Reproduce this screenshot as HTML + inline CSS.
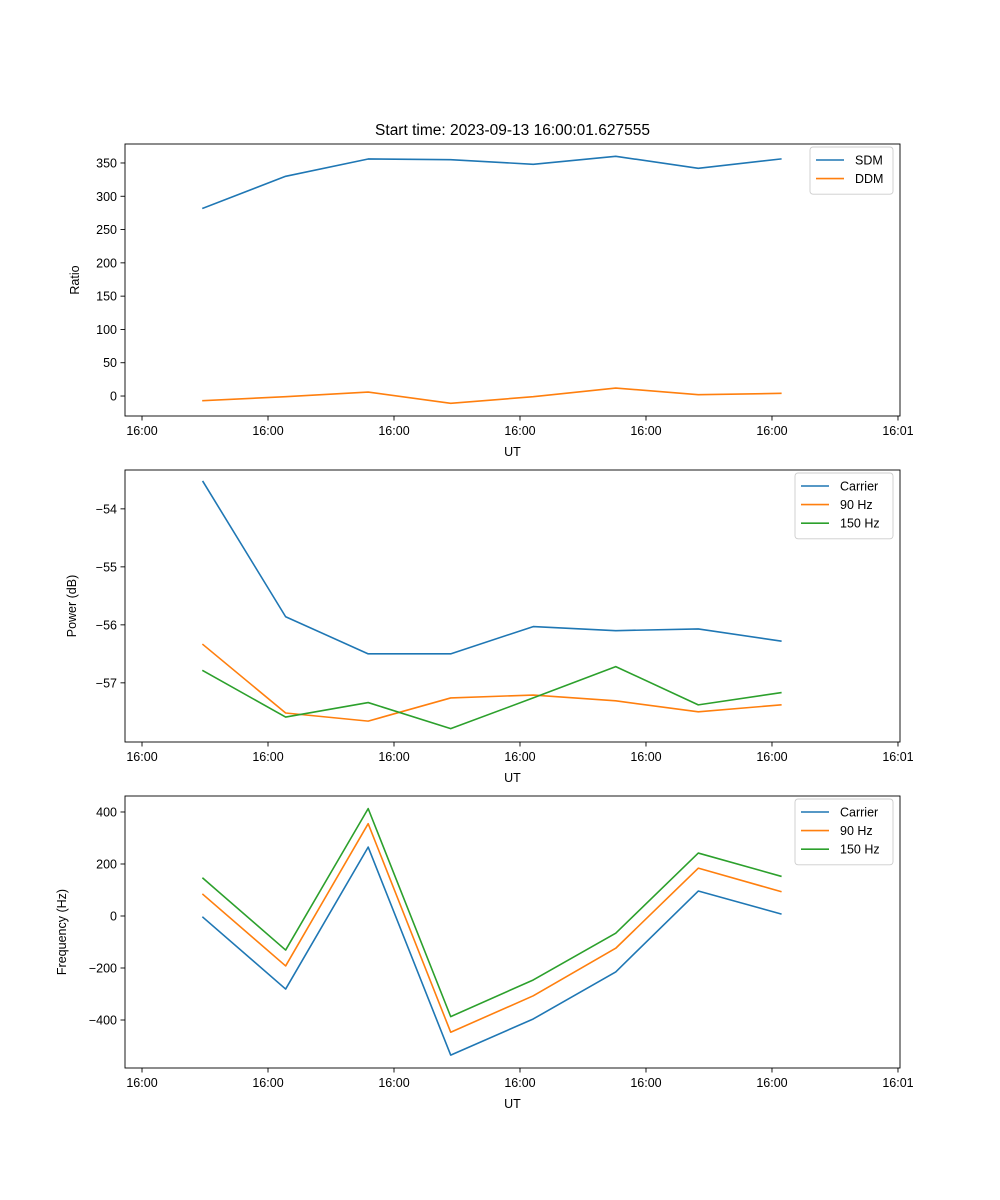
<!DOCTYPE html>
<html><head><meta charset="utf-8"><style>
html,body{margin:0;padding:0;background:#fff}
svg{display:block;font-family:"Liberation Sans","DejaVu Sans",sans-serif}
</style></head><body>
<svg id="fig" width="1000" height="1200" xmlns="http://www.w3.org/2000/svg"></svg>
<script>
// shared x data: seconds after 16:00:00
const timeSeconds = [4.84, 11.4, 17.95, 24.5, 31.05, 37.6, 44.15, 50.7];
const xTickSeconds = [0, 10, 20, 30, 40, 50, 60];
const xTickLabels = ["16:00","16:00","16:00","16:00","16:00","16:00","16:01"];

const sdmValues = [282, 330, 356, 355, 348, 360, 342, 356];
const ddmValues = [-7, -1, 6, -11, -1, 12, 2, 4];
const ratioTicks = [0, 50, 100, 150, 200, 250, 300, 350];

const powerCarrier = [-53.53, -55.86, -56.5, -56.5, -56.03, -56.1, -56.07, -56.28];
const power90 = [-56.34, -57.52, -57.66, -57.26, -57.21, -57.31, -57.5, -57.38];
const power150 = [-56.79, -57.59, -57.34, -57.79, -57.26, -56.72, -57.38, -57.17];
const powerTicks = [-57, -56, -55, -54];

const freqCarrier = [-5, -281, 265, -535, -396, -215, 96, 8];
const freq90 = [83, -192, 355, -447, -307, -124, 184, 94];
const freq150 = [145, -131, 413, -387, -246, -66, 242, 153];
const freqTicks = [-400, -200, 0, 200, 400];

const NS = "http://www.w3.org/2000/svg";
const svg = document.getElementById("fig");
function mk(tag, attrs, parent){
  const e = document.createElementNS(NS, tag);
  for (const k in attrs) e.setAttribute(k, attrs[k]);
  (parent||svg).appendChild(e); return e;
}
const L = 125, R = 900;
const xMin = -1.35, xMax = 60.16;
const xs = t => L + (t - xMin) / (xMax - xMin) * (R - L);

const title = mk("text", {x: 512.5, y: 135, "text-anchor": "middle", "font-size": 15.5, fill: "#000"});
title.textContent = "Start time: 2023-09-13 16:00:01.627555";



function panel(name, top, bottom, yMin, yMax, ticks, ylabel, ylabelX, series, legend){
  const g = mk("g", {});
  
  
  const ys = v => bottom - (v - yMin) / (yMax - yMin) * (bottom - top);
  // series
  series.forEach(s => {
    const pts = s.vals.map((v, i) => xs(timeSeconds[i]).toFixed(2) + "," + ys(v).toFixed(2)).join(" ");
    const pl = mk("polyline", {points: pts, fill: "none", stroke: s.color, "stroke-width": 1.6, "stroke-linejoin": "round", "stroke-linecap": "square"}, g);
    
    
  });
  // frame
  const fr = mk("rect", {x: L, y: top, width: R - L, height: bottom - top, fill: "none", stroke: "#000", "stroke-width": 0.9}, g);
  
  
  // x ticks
  xTickSeconds.forEach((t, i) => {
    const x = xs(t);
    mk("line", {x1: x, x2: x, y1: bottom, y2: bottom + 4.5, stroke: "#000", "stroke-width": 0.9}, g);
    const tx = mk("text", {x: x, y: bottom + 19, "text-anchor": "middle", "font-size": 12.5}, g);
    tx.textContent = xTickLabels[i];
    
    
  });
  const xl = mk("text", {x: 512.5, y: bottom + 40, "text-anchor": "middle", "font-size": 12.5}, g);
  xl.textContent = "UT";
  
  
  // y ticks
  ticks.forEach(v => {
    const y = ys(v);
    mk("line", {x1: L - 4.5, x2: L, y1: y, y2: y, stroke: "#000", "stroke-width": 0.9}, g);
    const ty = mk("text", {x: L - 8, y: y + 4.5, "text-anchor": "end", "font-size": 12.5}, g);
    ty.textContent = v < 0 ? "\u2212" + Math.abs(v) : String(v);
    
    
  });
  const cy = (top + bottom) / 2;
  const yl = mk("text", {x: ylabelX, y: cy, "text-anchor": "middle", "font-size": 12.5, transform: `rotate(-90 ${ylabelX} ${cy})`}, g);
  yl.textContent = ylabel;
  
  
  // legend
  const lg = mk("g", {}, g);
  
  
  mk("rect", {x: legend.x, y: top + 3, width: legend.w, height: 10 + series.length * 18.6, rx: 3, fill: "#fff", "fill-opacity": 0.8, stroke: "#ccc", "stroke-width": 0.9}, lg);
  series.forEach((s, i) => {
    const y = top + 16 + i * 18.6;
    mk("line", {x1: legend.x + 6, x2: legend.x + 34, y1: y, y2: y, stroke: s.color, "stroke-width": 1.6}, lg);
    const t = mk("text", {x: legend.x + 45, y: y + 4.5, "font-size": 12.5}, lg);
    t.textContent = s.label;
    
    
  });
}

const C0 = "#1f77b4", C1 = "#ff7f0e", C2 = "#2ca02c";
panel("ratio-panel", 144, 416, -30, 378.5, ratioTicks, "Ratio", 79,
  [{id: "sdm-line", vals: sdmValues, color: C0, label: "SDM"},
   {id: "ddm-line", vals: ddmValues, color: C1, label: "DDM"}],
  {x: 810, w: 83});
panel("power-panel", 470, 742, -58.02, -53.33, powerTicks, "Power (dB)", 76,
  [{id: "power-carrier-line", vals: powerCarrier, color: C0, label: "Carrier"},
   {id: "power-90hz-line", vals: power90, color: C1, label: "90 Hz"},
   {id: "power-150hz-line", vals: power150, color: C2, label: "150 Hz"}],
  {x: 795, w: 98});
panel("frequency-panel", 796, 1068, -584.6, 461.5, freqTicks, "Frequency (Hz)", 66,
  [{id: "freq-carrier-line", vals: freqCarrier, color: C0, label: "Carrier"},
   {id: "freq-90hz-line", vals: freq90, color: C1, label: "90 Hz"},
   {id: "freq-150hz-line", vals: freq150, color: C2, label: "150 Hz"}],
  {x: 795, w: 98});
</script>
</body></html>
